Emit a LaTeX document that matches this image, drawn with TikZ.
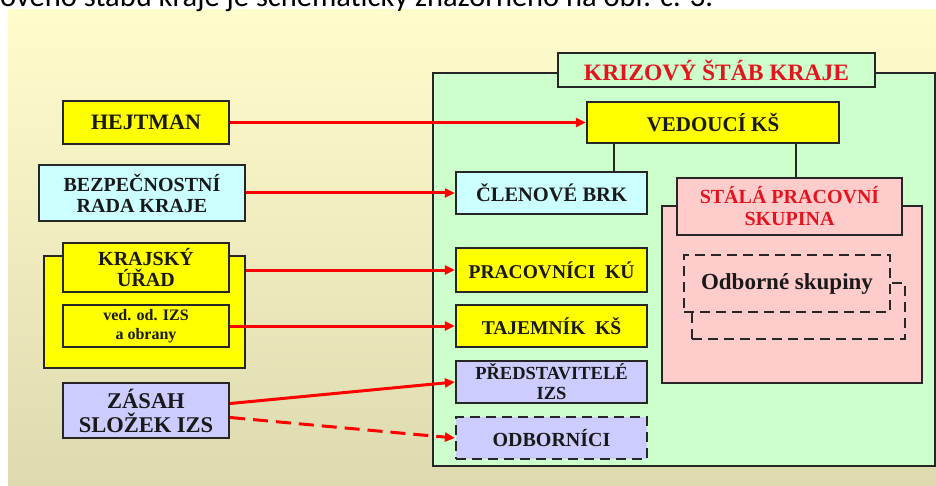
\documentclass[tikz,border=0pt]{standalone}
\usepackage{fontspec}
\setmainfont{Liberation Serif}
\newfontfamily\capfont{Carlito}
\usetikzlibrary{arrows.meta,calc}
\definecolor{bgtop}{RGB}{255,252,204}
\definecolor{bgbot}{RGB}{222,218,176}
\definecolor{ksgreen}{RGB}{204,255,204}
\definecolor{ksyellow}{RGB}{255,255,0}
\definecolor{kscyan}{RGB}{204,255,255}
\definecolor{kslilac}{RGB}{204,204,255}
\definecolor{kspink}{RGB}{255,204,204}
\definecolor{ksred}{RGB}{228,20,30}
\newcommand{\boxsize}[2]{\fontsize{#1}{#2}\selectfont}

\begin{document}
\begin{tikzpicture}[x=1pt, y=-1pt, >={Triangle[length=10pt,width=9pt]}]
\tikzstyle{box}=[draw=black!85, line width=2.2pt, align=center, inner sep=0pt, text=black!90]
\tikzstyle{dashbox}=[box, dash pattern=on 10pt off 6pt]
\tikzstyle{link}=[->, draw=red, line width=3pt]
\tikzstyle{conn}=[draw=black!85, line width=2pt]
\clip (0,0) rectangle (936,486);
\fill[white] (0,0) rectangle (936,486);
\shade[top color=bgtop, bottom color=bgbot] (8,10) rectangle (936,486);
\node[anchor=base west, inner sep=0pt, font={\capfont\boxsize{30.5}{31}}] (caption) at (0,7)
  {ověno štábu kraje je schematicky znázorněno na obr. č. 3.};

% left column
\node[box, fill=ksyellow, minimum width=166, minimum height=43, font={\bfseries\boxsize{22}{23}}] (hejtman) at (146,122.5) {HEJTMAN};
\node[box, fill=kscyan, minimum width=206, minimum height=56, font={\bfseries\boxsize{20}{21}}] (bezp) at (142,193) {BEZPEČNOSTNÍ\\RADA KRAJE};
\node[box, fill=ksyellow, minimum width=201, minimum height=112] (uradbox) at (144.5,312) {};
\node[box, fill=ksyellow, minimum width=166, minimum height=49, font={\bfseries\boxsize{20}{21}}] (urad) at (146,267.5) {KRAJSKÝ\\ÚŘAD};
\node[box, fill=ksyellow, minimum width=166, minimum height=42, font={\bfseries\boxsize{16}{19}}] (ved) at (146,326) {ved. od. IZS\\a obrany};
\node[box, fill=kslilac, minimum width=166, minimum height=55, font={\bfseries\boxsize{22.5}{24}}] (zasah) at (146,410.5) {ZÁSAH\\SLOŽEK IZS};

% krizovy stab
\node[box, fill=ksgreen, minimum width=502, minimum height=393] (ks) at (684,269.5) {};
\node[box, fill=ksgreen, minimum width=317, minimum height=34, text=ksred, font={\bfseries\boxsize{23.5}{24}}] (title) at (716.5,70) {KRIZOVÝ ŠTÁB KRAJE};
\node[box, fill=ksyellow, minimum width=252, minimum height=41, font={\bfseries\boxsize{21}{22}}] (vedouci) at (713,122.5) {VEDOUCÍ KŠ};
\node[box, fill=kscyan, minimum width=191, minimum height=42, font={\bfseries\boxsize{20.5}{21}}] (clen) at (551.5,193) {ČLENOVÉ BRK};
\node[box, fill=ksyellow, minimum width=191, minimum height=44, font={\bfseries\boxsize{19.5}{21}}] (prac) at (551.5,270) {PRACOVNÍCI~ KÚ};
\node[box, fill=ksyellow, minimum width=191, minimum height=42, font={\bfseries\boxsize{19.5}{21}}] (taj) at (551.5,326) {TAJEMNÍK~ KŠ};
\node[box, fill=kslilac, minimum width=191, minimum height=42, font={\bfseries\boxsize{18.5}{20}}] (pred) at (551.5,382) {PŘEDSTAVITELÉ\\IZS};
\node[dashbox, fill=kslilac, minimum width=191, minimum height=42, font={\bfseries\boxsize{20}{21}}] (odb) at (551.5,438) {ODBORNÍCI};

% stala pracovni skupina
\node[box, fill=kspink, minimum width=260, minimum height=177] (spsbox) at (792,294.5) {};
\node[box, fill=kspink, minimum width=225, minimum height=57, text=ksred, font={\bfseries\boxsize{20}{22}}] (stala) at (789.5,206.5) {STÁLÁ PRACOVNÍ\\SKUPINA};
\node[dashbox, fill=kspink, minimum width=213, minimum height=56] (skup2) at (798.5,311) {};
\node[dashbox, fill=kspink, minimum width=206, minimum height=57, font={\bfseries\boxsize{23}{24}}] (skup1) at (787,283.5) {Odborné skupiny};

\draw[conn] ([xshift=-99pt]vedouci.south) -- ([xshift=-99pt]vedouci.south |- clen.north);
\draw[conn] ([xshift=83pt]vedouci.south) -- ([xshift=83pt]vedouci.south |- stala.north);

\draw[link] (hejtman.east) -- (vedouci.west);
\draw[link] (bezp.east) -- (clen.west);
\draw[link] (uradbox.east |- prac.west) -- (prac.west);
\draw[link] (ved.east) -- (taj.west);
\draw[link] ([yshift=7pt]zasah.east) -- (pred.west);
\draw[link, dash pattern=on 15pt off 8pt] ([yshift=-7pt]zasah.east) -- (odb.west);
\end{tikzpicture}
\end{document}
